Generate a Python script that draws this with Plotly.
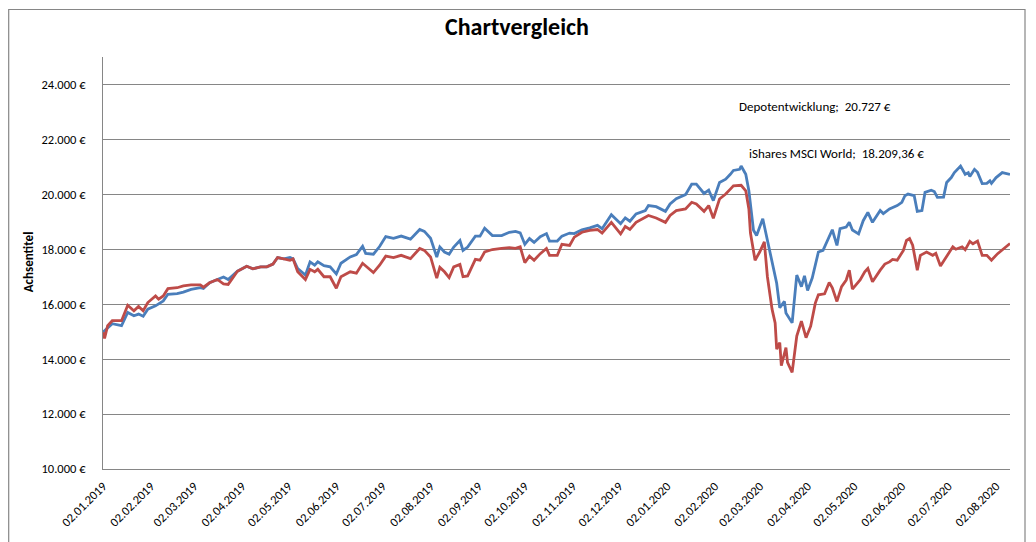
import plotly.graph_objects as go

# ---------------- data ----------------
blue_dates = [
    "2019-01-02","2019-01-05","2019-01-08","2019-01-14","2019-01-18","2019-01-22","2019-01-25","2019-01-28","2019-01-31",
    "2019-02-05","2019-02-10","2019-02-13","2019-02-19","2019-02-23","2019-02-28",
    "2019-03-06","2019-03-08","2019-03-12","2019-03-17","2019-03-21","2019-03-24","2019-03-30",
    "2019-04-05","2019-04-09","2019-04-14","2019-04-18","2019-04-22","2019-04-25","2019-04-29",
    "2019-05-03","2019-05-05","2019-05-08","2019-05-13","2019-05-16","2019-05-19","2019-05-21","2019-05-25","2019-05-29",
    "2019-06-02","2019-06-05","2019-06-11","2019-06-15","2019-06-19","2019-06-21","2019-06-26","2019-06-30",
    "2019-07-04","2019-07-09","2019-07-14","2019-07-20","2019-07-26","2019-07-29",
    "2019-08-02","2019-08-06","2019-08-08","2019-08-11","2019-08-14","2019-08-17","2019-08-21","2019-08-23","2019-08-26","2019-08-31",
    "2019-09-03","2019-09-06","2019-09-11","2019-09-17","2019-09-22","2019-09-26","2019-09-29",
    "2019-10-02","2019-10-05","2019-10-08","2019-10-12","2019-10-16","2019-10-18","2019-10-23","2019-10-26","2019-10-31",
    "2019-11-03","2019-11-08","2019-11-13","2019-11-18","2019-11-21","2019-11-27",
    "2019-12-03","2019-12-06","2019-12-09","2019-12-13","2019-12-19","2019-12-21","2019-12-26",
    "2020-01-01","2020-01-04","2020-01-08","2020-01-14","2020-01-18","2020-01-21","2020-01-26","2020-01-29",
    "2020-02-01","2020-02-05","2020-02-09","2020-02-12","2020-02-14","2020-02-18","2020-02-19","2020-02-22","2020-02-24","2020-02-27","2020-02-29",
    "2020-03-02","2020-03-04","2020-03-07","2020-03-10","2020-03-13","2020-03-15","2020-03-18","2020-03-19","2020-03-23","2020-03-26","2020-03-29","2020-03-31",
    "2020-04-02","2020-04-05","2020-04-09","2020-04-12","2020-04-14","2020-04-18","2020-04-21","2020-04-23","2020-04-27","2020-04-29",
    "2020-05-01","2020-05-05","2020-05-08","2020-05-11","2020-05-14","2020-05-19","2020-05-21","2020-05-25","2020-05-30",
    "2020-06-02","2020-06-04","2020-06-06","2020-06-10","2020-06-12","2020-06-15","2020-06-17","2020-06-21","2020-06-23","2020-06-25","2020-06-29",
    "2020-07-01","2020-07-04","2020-07-06","2020-07-10","2020-07-13","2020-07-15","2020-07-16","2020-07-19","2020-07-21","2020-07-24","2020-07-27","2020-07-29","2020-07-30",
    "2020-08-02","2020-08-06","2020-08-11",
]
blue_values = [
    14980,15150,15290,15220,15700,15580,15640,15560,15820,
    15940,16120,16360,16385,16440,16540,
    16600,16570,16780,16900,16990,16900,17200,
    17380,17290,17360,17360,17460,17700,17650,
    17700,17650,17300,17060,17540,17420,17540,17400,17360,
    17100,17490,17720,17810,18110,17850,17820,18100,
    18460,18400,18480,18370,18720,18650,
    18400,17720,18080,17900,17820,18080,18320,17960,18080,18480,
    18480,18770,18500,18500,18620,18650,18600,
    18180,18390,18250,18460,18570,18300,18300,18480,18590,
    18570,18710,18780,18870,18750,19260,
    18930,19140,19020,19290,19410,19590,19550,
    19380,19650,19840,19990,20370,20370,20030,20150,
    19770,20430,20550,20730,20870,20910,21030,20730,20130,18690,18500,
    18810,19110,18330,17600,16760,15870,16100,15680,15320,17060,16640,17030,
    16500,16950,17900,17960,18200,18710,18140,18750,18810,18980,
    18700,18560,19040,19340,18980,19410,19300,19470,19590,
    19710,19950,20010,19950,19380,19410,20070,20150,20100,19890,19900,
    20430,20610,20790,21030,20730,20790,20650,20910,20800,20390,20400,20490,20400,
    20610,20790,20727,
]

red_dates = [
    "2019-01-02","2019-01-03","2019-01-05","2019-01-08","2019-01-14","2019-01-18","2019-01-22","2019-01-25","2019-01-28","2019-01-31",
    "2019-02-05","2019-02-07","2019-02-10","2019-02-13","2019-02-19","2019-02-23","2019-02-28",
    "2019-03-06","2019-03-08","2019-03-12","2019-03-17","2019-03-21","2019-03-24","2019-03-30",
    "2019-04-05","2019-04-09","2019-04-14","2019-04-18","2019-04-22","2019-04-25","2019-04-29",
    "2019-05-03","2019-05-05","2019-05-08","2019-05-13","2019-05-16","2019-05-19","2019-05-21","2019-05-25","2019-05-29",
    "2019-06-02","2019-06-05","2019-06-11","2019-06-15","2019-06-19","2019-06-26","2019-06-30",
    "2019-07-04","2019-07-09","2019-07-14","2019-07-20","2019-07-26","2019-07-29",
    "2019-08-02","2019-08-06","2019-08-08","2019-08-11","2019-08-14","2019-08-17","2019-08-21","2019-08-23","2019-08-26","2019-08-31",
    "2019-09-03","2019-09-06","2019-09-11","2019-09-17","2019-09-22","2019-09-26","2019-09-29",
    "2019-10-02","2019-10-05","2019-10-08","2019-10-12","2019-10-16","2019-10-18","2019-10-23","2019-10-26","2019-10-31",
    "2019-11-03","2019-11-08","2019-11-13","2019-11-18","2019-11-21","2019-11-27",
    "2019-12-03","2019-12-06","2019-12-09","2019-12-13","2019-12-19","2019-12-21","2019-12-26",
    "2020-01-01","2020-01-04","2020-01-08","2020-01-14","2020-01-18","2020-01-21","2020-01-26","2020-01-29",
    "2020-02-01","2020-02-05","2020-02-09","2020-02-12","2020-02-14","2020-02-19","2020-02-22","2020-02-24","2020-02-25","2020-02-28",
    "2020-03-02","2020-03-05","2020-03-07","2020-03-10","2020-03-12","2020-03-13","2020-03-15","2020-03-16","2020-03-19","2020-03-20","2020-03-23","2020-03-26","2020-03-29",
    "2020-04-01","2020-04-04","2020-04-07","2020-04-09","2020-04-13","2020-04-16","2020-04-18","2020-04-21","2020-04-24","2020-04-27","2020-04-29",
    "2020-05-01","2020-05-06","2020-05-09","2020-05-11","2020-05-14","2020-05-19","2020-05-22","2020-05-25","2020-05-27","2020-05-30",
    "2020-06-03","2020-06-05","2020-06-07","2020-06-09","2020-06-12","2020-06-14","2020-06-18","2020-06-22","2020-06-24","2020-06-27","2020-06-30",
    "2020-07-02","2020-07-05","2020-07-07","2020-07-11","2020-07-13","2020-07-16","2020-07-18","2020-07-21","2020-07-24","2020-07-27","2020-07-30",
    "2020-08-03","2020-08-11",
]
red_values = [
    14980,14750,15220,15400,15400,15960,15760,15920,15760,16060,
    16300,16180,16300,16565,16600,16670,16700,
    16700,16620,16780,16900,16740,16720,17200,
    17380,17290,17360,17360,17460,17700,17650,
    17600,17650,17180,16900,17270,17180,17270,17000,17000,
    16580,17000,17180,17130,17490,17150,17420,
    17750,17700,17780,17660,18030,17960,
    17720,16950,17340,17180,16970,17360,17450,17000,17030,17630,
    17600,17900,17990,18030,18060,18030,18090,
    17510,17750,17600,17840,18030,17780,17780,18180,18140,
    18440,18620,18690,18720,18590,18980,
    18560,18830,18720,18980,19170,19230,19140,
    18980,19230,19410,19470,19710,19650,19380,19590,
    19130,19830,20010,20190,20310,20330,20130,19470,18600,17600,
    17900,18270,17000,15820,15320,14360,14600,13760,14420,13880,13520,14840,15380,
    14780,15200,16040,16340,16380,16790,16600,16100,16640,16880,17240,
    16550,16880,17180,17300,16820,17240,17460,17540,17630,17600,
    17960,18320,18390,18150,17240,17780,17900,17780,17850,17390,17660,
    17840,18090,18000,18090,17980,18290,18200,18300,17780,17780,17600,
    17840,18209.36,
]

series_names = ["Depotentwicklung", "iShares MSCI World"]
label_texts = ["Depotentwicklung;\u00a0 20.727 €", "iShares MSCI World;\u00a0 18.209,36 €"]

y_tick_vals = [10000, 12000, 14000, 16000, 18000, 20000, 22000, 24000]
y_tick_text = ["10.000 €", "12.000 €", "14.000 €", "16.000 €", "18.000 €", "20.000 €", "22.000 €", "24.000 €"]

x_tick_vals = ["2019-01-02","2019-02-02","2019-03-02","2019-04-02","2019-05-02","2019-06-02","2019-07-02",
               "2019-08-02","2019-09-02","2019-10-02","2019-11-02","2019-12-02","2020-01-02","2020-02-02",
               "2020-03-02","2020-04-02","2020-05-02","2020-06-02","2020-07-02","2020-08-02"]
x_tick_text = ["02.01.2019","02.02.2019","02.03.2019","02.04.2019","02.05.2019","02.06.2019","02.07.2019",
               "02.08.2019","02.09.2019","02.10.2019","02.11.2019","02.12.2019","02.01.2020","02.02.2020",
               "02.03.2020","02.04.2020","02.05.2020","02.06.2020","02.07.2020","02.08.2020"]

# ---------------- figure ----------------
FONT = "Calibri, Carlito, Lato, 'Open Sans', sans-serif"
GRID = "#868686"
OFF = 8  # page body margin of the html page

W, H = 1036 - OFF, 542 - OFF
PL, PR, PT, PB = 103, 1010, 56.5, 471  # plot area in page pixels
pw, ph = PR - PL, PB - PT

fig = go.Figure()
fig.add_trace(go.Scatter(x=blue_dates, y=blue_values, mode="lines", name=series_names[0],
                         line=dict(color="#4A7EBB", width=2.8)))
fig.add_trace(go.Scatter(x=red_dates, y=red_values, mode="lines", name=series_names[1],
                         line=dict(color="#BE4B48", width=2.8)))

fig.update_layout(
    width=W, height=H,
    margin=dict(l=PL - OFF, r=W - (PR - OFF), t=PT - OFF, b=H - (PB - OFF), pad=0),
    paper_bgcolor="white", plot_bgcolor="white",
    showlegend=False,
    font=dict(family=FONT, size=12.5, color="black"),
    title=dict(text="<b>Chartvergleich</b>", x=(517 - OFF) / W, xref="container", xanchor="center",
               y=1 - (27 - OFF) / H, yref="container", yanchor="middle",
               font=dict(family=FONT, size=24, color="black")),
)

fig.update_xaxes(
    type="date",
    range=["2019-01-02", "2020-08-11"],
    tickvals=x_tick_vals, ticktext=x_tick_text,
    tickangle=-45, tickfont=dict(size=12.5, family=FONT),
    showgrid=False, zeroline=False,
    showline=True, linecolor=GRID, linewidth=1,
    ticks="", ticklabelstandoff=4,
)
fig.update_yaxes(
    range=[10000, 25000],
    tickvals=y_tick_vals, ticktext=y_tick_text,
    tickfont=dict(size=12.5, family=FONT),
    showgrid=True, gridcolor=GRID, gridwidth=1,
    zeroline=False,
    showline=True, linecolor=GRID, linewidth=1,
    ticks="", ticklabelstandoff=14,
)

# y-axis title
fig.add_annotation(text="<b>Achsentitel</b>", xref="paper", yref="paper",
                   x=(28 - PL) / pw, y=(PB - 263) / ph, textangle=-90, showarrow=False,
                   font=dict(family=FONT, size=13, color="black"),
                   xanchor="center", yanchor="middle")

# data labels
fig.add_annotation(text=label_texts[0], xref="paper", yref="paper",
                   x=(815 - PL) / pw, y=(PB - 106) / ph, showarrow=False,
                   font=dict(family=FONT, size=13, color="black"),
                   xanchor="center", yanchor="middle")
fig.add_annotation(text=label_texts[1], xref="paper", yref="paper",
                   x=(836 - PL) / pw, y=(PB - 154) / ph, showarrow=False,
                   font=dict(family=FONT, size=13, color="black"),
                   xanchor="center", yanchor="middle")

# chart frame
fig.add_shape(type="rect", xref="paper", yref="paper",
              x0=(OFF + 0.7 - PL) / pw, x1=(1025 - PL) / pw,
              y0=-(542 - PB + 10) / ph, y1=(PB - OFF - 0.7) / ph,
              line=dict(color=GRID, width=1.2), fillcolor="rgba(0,0,0,0)", layer="below")

fig.write_html("out.html")
